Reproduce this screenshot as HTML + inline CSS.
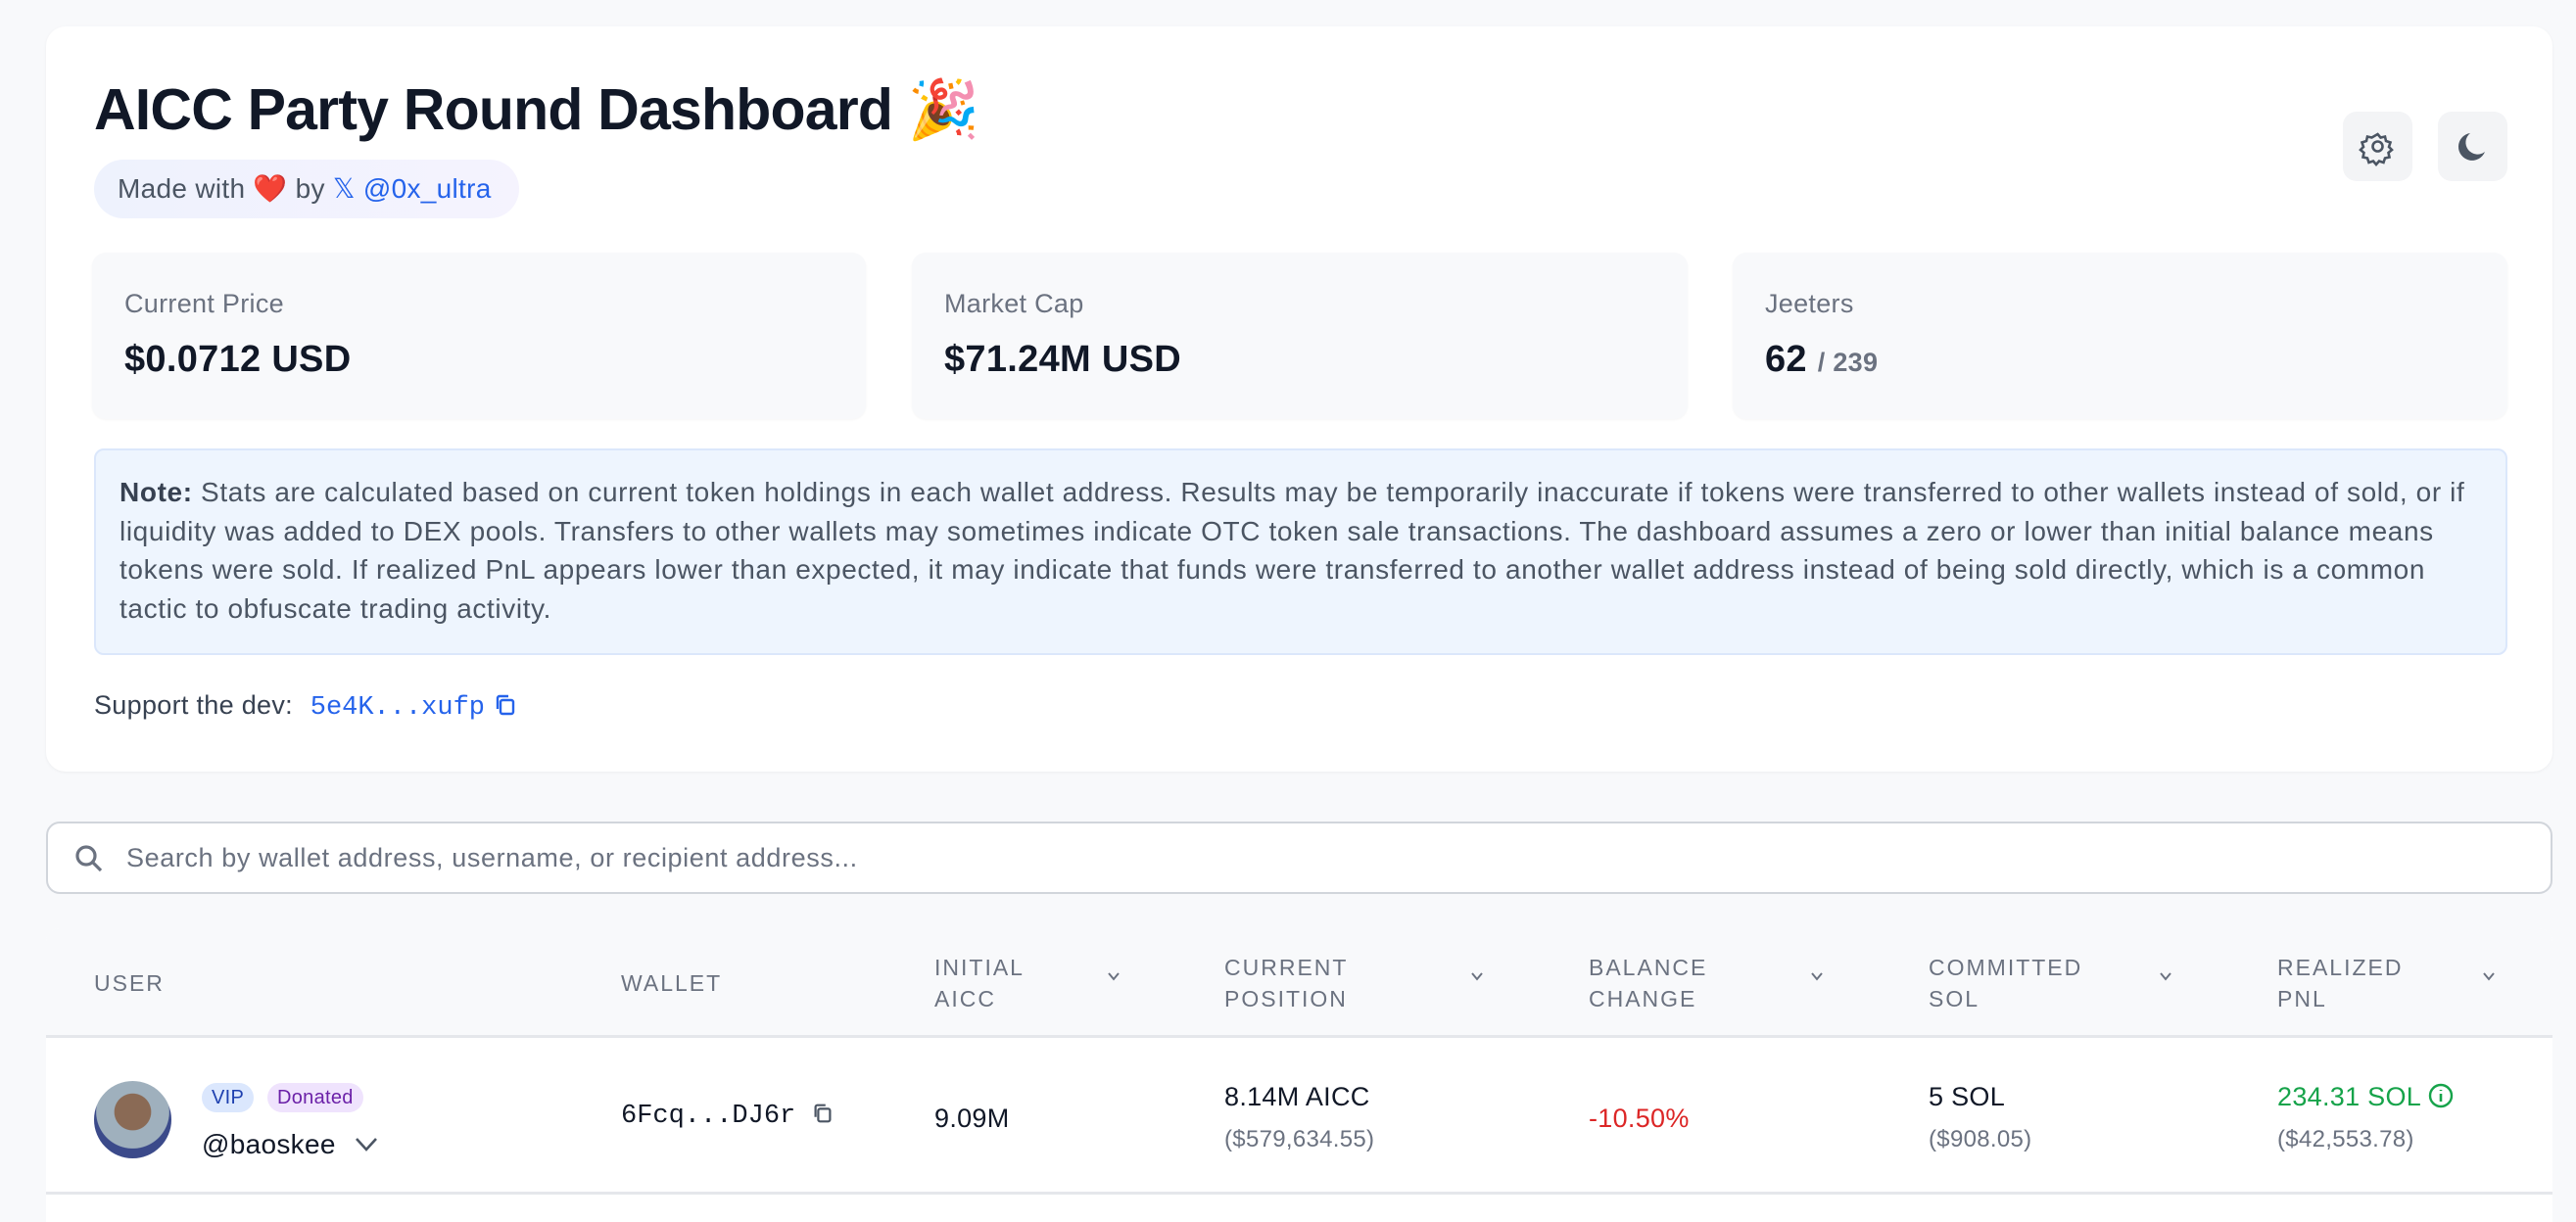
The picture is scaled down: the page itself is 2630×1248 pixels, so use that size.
<!DOCTYPE html>
<html><head><meta charset="utf-8">
<style>
*{box-sizing:border-box;margin:0;padding:0}
body{width:2630px;height:1238px;background:#f8f9fb;font-family:"Liberation Sans","Noto Sans CJK SC",sans-serif;position:relative;overflow:hidden;color:#111827;letter-spacing:0.3px}
.a{position:absolute}
.card{left:47px;top:27px;width:2559px;height:761px;background:#fff;border-radius:20px;box-shadow:0 1px 3px rgba(0,0,0,.05)}
.title{left:96px;top:78px;font-size:59px;font-weight:700;white-space:nowrap;letter-spacing:-0.8px}
.pill{left:96px;top:163px;width:434px;height:60px;border-radius:30px;background:linear-gradient(90deg,#eef2fd,#f5f3fe);font-size:28px;color:#4b5563;line-height:60px;padding-left:24px;white-space:nowrap}
.pill b{font-weight:400;color:#2563eb}
.btn{top:114px;width:71px;height:71px;border-radius:14px;background:#f3f4f6}
.stat{top:258px;height:170px;background:#f8f9fb;border-radius:14px;box-shadow:0 1px 2px rgba(0,0,0,.04)}
.stat .l{position:absolute;left:33px;top:37px;font-size:27px;color:#6b7280}
.stat .v{position:absolute;left:33px;top:88px;font-size:38px;font-weight:700;color:#111827;white-space:nowrap}
.note{left:96px;top:458px;width:2464px;height:211px;background:#eef5fe;border:2px solid #dbe7fb;border-radius:10px;padding:23px 20px 23px 24px;font-size:28px;letter-spacing:0.62px;line-height:39.5px;color:#4b5563}
.note b{color:#374151}
.sup{left:96px;top:705px;font-size:27px;color:#374151;white-space:nowrap}
.sup span{font-family:"Liberation Mono",monospace;color:#2563eb;margin-left:10px;letter-spacing:0}
.search{left:47px;top:839px;width:2559px;height:74px;background:#fff;border:2px solid #d1d5db;border-radius:14px}
.search span{position:absolute;left:80px;top:20px;font-size:27px;color:#6b7280;letter-spacing:0.6px}
.table{left:47px;top:948px;width:2559px;height:300px;background:#fff;border-radius:14px 14px 0 0;overflow:hidden}
.thead{position:absolute;left:0;top:0;width:100%;height:112px;background:#f8f9fb;border-bottom:3px solid #e5e7eb}
.th{position:absolute;font-size:23px;letter-spacing:2px;color:#6b7280;line-height:32px}
.chev{position:absolute;top:42px;width:14px;height:14px}
.row{position:absolute;left:0;top:115px;width:100%;height:157px;border-bottom:3px solid #e5e7eb}
.t1{position:absolute;font-size:27px;color:#111827;white-space:nowrap}
.t2{position:absolute;font-size:24px;color:#6b7280;white-space:nowrap}
.badge{position:absolute;height:30px;border-radius:15px;font-size:20px;line-height:30px;padding:0 10px}
</style></head><body>
<div class="a card"></div>
<div class="a title">AICC Party Round Dashboard 🎉</div>
<div class="a pill">Made with <span style="color:#e11d48">❤️</span> by <b>𝕏 @0x_ultra</b></div>
<div class="a btn" style="left:2392px"><svg width="71" height="71" viewBox="0 0 71 71"><g fill="none" stroke="#4b5563" stroke-width="2.6"><circle cx="35.5" cy="35.5" r="5"/><path d="M35.5 23l3 3.5 4.5-1 1 4.5 4.5 1.5-1.5 4.5 3 3-3.5 3 1 4.5-4.5 1-1.5 4.5-4.5-1.5-3 3.5-3-3.5-4.5 1.5-1.5-4.5-4.5-1 1-4.5-3.5-3 3-3-1.5-4.5 4.5-1.5 1-4.5 4.5 1z"/></g></svg></div>
<div class="a btn" style="left:2489px"><svg width="71" height="71" viewBox="0 0 71 71"><path d="M33 22a14 14 0 1 0 15 19A12 12 0 0 1 33 22z" fill="#4b5563"/></svg></div>
<div class="a stat" style="left:94px;width:790px"><div class="l">Current Price</div><div class="v">$0.0712 USD</div></div>
<div class="a stat" style="left:931px;width:792px"><div class="l">Market Cap</div><div class="v">$71.24M USD</div></div>
<div class="a stat" style="left:1769px;width:791px"><div class="l">Jeeters</div><div class="v">62 <span style="font-size:27px;color:#6b7280;font-weight:700">/ 239</span></div></div>
<div class="a note"><b>Note:</b> Stats are calculated based on current token holdings in each wallet address. Results may be temporarily inaccurate if tokens were transferred to other wallets instead of sold, or if liquidity was added to DEX pools. Transfers to other wallets may sometimes indicate OTC token sale transactions. The dashboard assumes a zero or lower than initial balance means tokens were sold. If realized PnL appears lower than expected, it may indicate that funds were transferred to another wallet address instead of being sold directly, which is a common tactic to obfuscate trading activity.</div>
<div class="a sup">Support the dev: <span>5e4K...xufp</span> <svg width="26" height="26" viewBox="0 0 26 26" style="vertical-align:-4px"><g fill="none" stroke="#2563eb" stroke-width="2.4"><rect x="8" y="8" width="13" height="14" rx="2"/><path d="M5 17V6a2 2 0 0 1 2-2h9"/></g></svg></div>
<div class="a search"><svg class="a" style="left:24px;top:18px" width="36" height="36" viewBox="0 0 36 36"><g fill="none" stroke="#6b7280" stroke-width="3.2"><circle cx="15" cy="15" r="9"/><path d="M22 22l8 8"/></g></svg><span>Search by wallet address, username, or recipient address...</span></div>
<div class="a table">
<div class="thead">
<div class="th" style="left:49px;top:40px">USER</div>
<div class="th" style="left:587px;top:40px">WALLET</div>
<div class="th" style="left:907px;top:24px">INITIAL<br>AICC</div>
<div class="th" style="left:1203px;top:24px">CURRENT<br>POSITION</div>
<div class="th" style="left:1575px;top:24px">BALANCE<br>CHANGE</div>
<div class="th" style="left:1922px;top:24px">COMMITTED<br>SOL</div>
<div class="th" style="left:2278px;top:24px">REALIZED<br>PNL</div>
<svg class="chev" style="left:1083px" viewBox="0 0 14 14"><path d="M2 4l5 6 5-6" fill="none" stroke="#6b7280" stroke-width="2"/></svg>
<svg class="chev" style="left:1454px" viewBox="0 0 14 14"><path d="M2 4l5 6 5-6" fill="none" stroke="#6b7280" stroke-width="2"/></svg>
<svg class="chev" style="left:1801px" viewBox="0 0 14 14"><path d="M2 4l5 6 5-6" fill="none" stroke="#6b7280" stroke-width="2"/></svg>
<svg class="chev" style="left:2157px" viewBox="0 0 14 14"><path d="M2 4l5 6 5-6" fill="none" stroke="#6b7280" stroke-width="2"/></svg>
<svg class="chev" style="left:2487px" viewBox="0 0 14 14"><path d="M2 4l5 6 5-6" fill="none" stroke="#6b7280" stroke-width="2"/></svg>
</div>
<div class="row">
<div class="a" style="left:49px;top:41px;width:79px;height:79px;border-radius:50%;background:radial-gradient(circle at 50% 40%,#8a6a55 0 30%,#9fb0bd 31% 60%,#3b4a8a 61%)"></div>
<div class="badge" style="left:159px;top:43px;background:#dbe7fd;color:#1e40af">VIP</div>
<div class="badge" style="left:226px;top:43px;background:#efe3fd;color:#6b21a8">Donated</div>
<div class="t1" style="left:159px;top:90px;font-size:28px">@baoskee <svg width="26" height="20" viewBox="0 0 26 20" style="margin-left:10px"><path d="M3 5l10 11 10-11" fill="none" stroke="#4b5563" stroke-width="2.6"/></svg></div>
<div class="t1" style="left:587px;top:62px;font-family:'Liberation Mono',monospace;letter-spacing:0">6Fcq...DJ6r <svg width="24" height="24" viewBox="0 0 26 26" style="vertical-align:-3px"><g fill="none" stroke="#4b5563" stroke-width="2.4"><rect x="8" y="8" width="13" height="14" rx="2"/><path d="M5 17V6a2 2 0 0 1 2-2h9"/></g></svg></div>
<div class="t1" style="left:907px;top:64px">9.09M</div>
<div class="t1" style="left:1203px;top:42px">8.14M AICC</div>
<div class="t2" style="left:1203px;top:87px">($579,634.55)</div>
<div class="t1" style="left:1575px;top:64px;color:#dc2626">-10.50%</div>
<div class="t1" style="left:1922px;top:42px">5 SOL</div>
<div class="t2" style="left:1922px;top:87px">($908.05)</div>
<div class="t1" style="left:2278px;top:42px;color:#16a34a">234.31 SOL <svg width="26" height="26" viewBox="0 0 26 26" style="vertical-align:-3px"><circle cx="13" cy="13" r="11" fill="none" stroke="#16a34a" stroke-width="2.4"/><path d="M13 11v8M13 7v1" stroke="#16a34a" stroke-width="2.6"/></svg></div>
<div class="t2" style="left:2278px;top:87px">($42,553.78)</div>
</div>
</div>
</body></html>
